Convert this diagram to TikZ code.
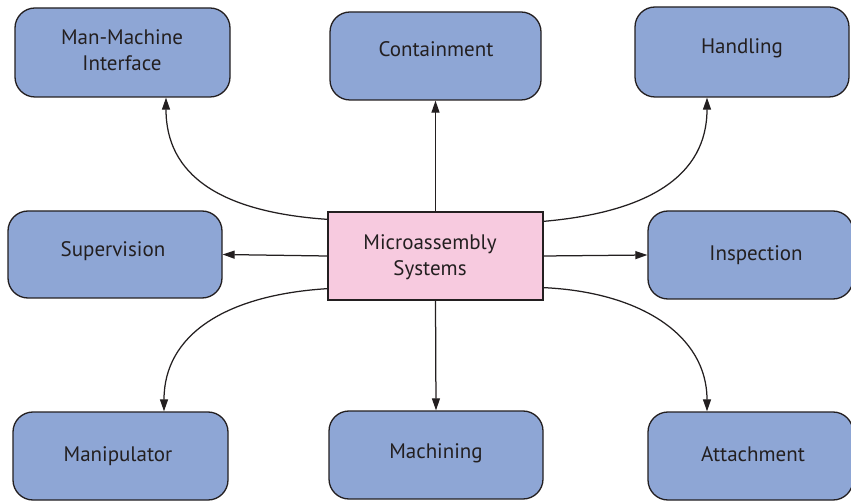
\documentclass[tikz,border=0pt]{standalone}
\usepackage{fontspec}
\setmainfont{PT Sans}
\usetikzlibrary{arrows.meta}
\definecolor{inkdark}{HTML}{231F20}
\definecolor{boxblue}{HTML}{8EA6D5}
\definecolor{corepink}{HTML}{F7CADF}
\tikzset{
  topic/.style={draw=inkdark, line width=1.3pt, fill=boxblue, rounded corners=20pt,
    inner sep=0pt},
  core/.style={draw=inkdark, line width=1.3pt, fill=corepink, inner sep=0pt},
  label/.style={text=inkdark, align=center, font=\fontsize{21}{26}\selectfont},
  link/.style={draw=inkdark, line width=1.25pt, -{Triangle[length=12pt,width=8pt]}}
}
\newcommand{\boxat}[6]{% name, style, x1, y1, x2, y2
  \node[#2, minimum width={#5-#3}, minimum height={#6-#4}] (#1) at ({(#3+#5)/2},{(#4+#6)/2}) {};}
\begin{document}
\begin{tikzpicture}[x=1pt,y=-1pt]
\useasboundingbox (0,0) rectangle (851,502);

% boxes
\boxat{mmi}{topic}{15}{8}{230}{97}
\boxat{cont}{topic}{330}{12}{541}{100}
\boxat{hand}{topic}{635}{7}{849}{97}
\boxat{sup}{topic}{8}{211}{222}{298}
\boxat{core}{core}{328}{212}{543}{300}
\boxat{insp}{topic}{648}{211}{853}{299}
\boxat{mani}{topic}{13}{412}{228}{500}
\boxat{mach}{topic}{329}{411}{543}{499}
\boxat{att}{topic}{648}{412}{853}{500}

% labels
\node[label] (tmmi) at (122,50) {Man-Machine\\Interface};
\node[label] (tcont) at (436,49) {Containment};
\node[label] (thand) at (742,48) {Handling};
\node[label] (tsup) at (113,251) {Supervision};
\node[label] (tcore) at (430,257) {Microassembly\\Systems};
\node[label] (tinsp) at (756,255) {Inspection};
\node[label] (tmani) at (118,456) {Manipulator};
\node[label] (tmach) at (436,453) {Machining};
\node[label] (tatt) at (753,454) {Attachment};

% straight connectors
\draw[link] (core.north) -- (cont.south);
\draw[link] (core.south) -- (mach.north);
\draw[link] (core.west) -- (sup.east);
\draw[link] (core.east) -- (insp.west);

% curved connectors
\draw[link] ([yshift=-8pt]core.north west) .. controls (220,212) and (166,175) .. ([xshift=43.5pt]mmi.south);
\draw[link] ([yshift=-10pt]core.north east) .. controls (650,212) and (707,175) .. ([xshift=-35pt]hand.south);
\draw[link] ([yshift=12pt]core.south west) .. controls (225,295) and (164,335) .. ([xshift=43.5pt]mani.north);
\draw[link] ([yshift=13pt]core.south east) .. controls (640,292) and (707,335) .. ([xshift=-43.5pt]att.north);
\end{tikzpicture}
\end{document}
